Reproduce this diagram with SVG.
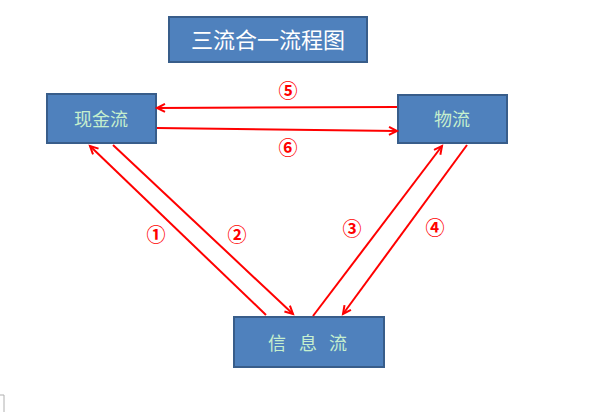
<svg xmlns="http://www.w3.org/2000/svg" width="597" height="412" viewBox="0 0 597 412">
<style>
.box{fill:#4F81BD;stroke:#385D8A;stroke-width:2}
.lbl{font-family:"Noto Sans CJK SC","Noto Sans",sans-serif;font-size:18px;fill:#C6EFCE}
.ttl{font-family:"Noto Sans CJK SC","Noto Sans",sans-serif;font-size:22px;fill:#FFFFFF}
.ar{stroke:#FF0000;stroke-width:2;fill:none;marker-end:url(#ah)}
.num{font-family:"Noto Sans CJK SC","DejaVu Sans",sans-serif;font-size:19px;font-weight:bold;fill:#FF0000;text-anchor:middle}
</style>
<defs>
<marker id="ah" markerUnits="userSpaceOnUse" markerWidth="12" markerHeight="12" refX="9" refY="5" orient="auto">
<path d="M1,1 L9,5 L1,9" fill="none" stroke="#FF0000" stroke-width="2"/>
</marker>
</defs>
<rect width="597" height="412" fill="#FFFFFF"/>
<path d="M0,395 H4 V412" fill="none" stroke="#B0B0B0" stroke-width="1"/>
<g id="title">
<rect class="box" x="169" y="17" width="198" height="45"/>
<text class="ttl" x="268" y="48" text-anchor="middle">三流合一流程图</text>
</g>
<g id="cash">
<rect class="box" x="47" y="94" width="109" height="49"/>
<text class="lbl" x="101" y="126" text-anchor="middle">现金流</text>
</g>
<g id="logistics">
<rect class="box" x="398" y="95" width="109" height="48"/>
<text class="lbl" x="452" y="126" text-anchor="middle">物流</text>
</g>
<g id="info">
<rect class="box" x="234" y="317" width="150" height="50"/>
<text class="lbl" x="268 286 299 317 329" y="350" xml:space="preserve">信 息 流</text>
</g>
<g id="connectors">
<line class="ar" x1="397" y1="107" x2="157" y2="108"/>
<line class="ar" x1="157" y1="128" x2="397" y2="131"/>
<line class="ar" x1="266" y1="315" x2="90" y2="146"/>
<line class="ar" x1="113" y1="145" x2="293" y2="314"/>
<line class="ar" x1="313" y1="316" x2="442" y2="146"/>
<line class="ar" x1="467" y1="145" x2="343" y2="314"/>
<text class="num" x="288" y="98">⑤</text>
<text class="num" x="288" y="155">⑥</text>
<text class="num" x="156" y="242">①</text>
<text class="num" x="237" y="242">②</text>
<text class="num" x="352" y="236">③</text>
<text class="num" x="435" y="235">④</text>
</g>
</svg>
